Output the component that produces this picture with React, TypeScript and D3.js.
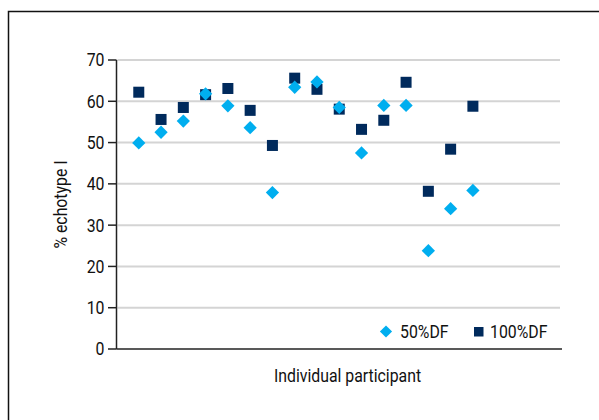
import React from "react";
import * as d3 from "d3";

const participants = [1, 2, 3, 4, 5, 6, 7, 8, 9, 10, 11, 12, 13, 14, 15, 16];
const df50 = [49.9, 52.5, 55.2, 61.8, 58.9, 53.6, 37.9, 63.4, 64.7, 58.5, 47.5, 59.0, 59.0, 23.8, 34.0, 38.4];
const df100 = [62.2, 55.6, 58.5, 61.6, 63.1, 57.8, 49.3, 65.6, 62.9, 58.1, 53.2, 55.4, 64.6, 38.2, 48.4, 58.8];
const yTicks = [0, 10, 20, 30, 40, 50, 60, 70];
const seriesNames = ["50%DF", "100%DF"];
const yTitle = "% echotype I";
const xTitle = "Individual participant";

const W = 599;
const H = 420;
const FONT = "Roboto, 'Liberation Sans', sans-serif";
const FS = 18;
const SX = 0.88;
const C50 = "#00aeef";
const C100 = "#002a5c";

function T(props: { x: number; y: number; anchor?: string; rotate?: number; children: React.ReactNode }) {
  const { x, y, anchor = "start", rotate = 0, children } = props;
  return (
    <g transform={`translate(${x},${y}) rotate(${rotate}) scale(${SX},1)`}>
      <text x={0} y={0} dy="0.36em" textAnchor={anchor} fontSize={FS} fill="#111" fontFamily={FONT}>
        {children}
      </text>
    </g>
  );
}

export default function App() {
  const x = d3.scaleLinear().domain([0, 20]).range([116.5, 562]);
  const y = d3.scaleLinear().domain([0, 70]).range([349, 60]);
  const diamond = d3.symbol().type(d3.symbolDiamond2).size(112)();
  const legendDiamond = d3.symbol().type(d3.symbolDiamond2).size(95)();

  return (
    <svg width={W} height={H} style={{ position: "fixed", left: 0, top: 0, background: "#fff" }}>
      <rect x={0} y={0} width={W} height={H} fill="#fff" />
      <rect x={8.5} y={11.5} width={W + 20} height={H + 20} fill="none" stroke="#111" strokeWidth={1.5} />
      {yTicks.filter((t) => t > 0).map((t) => (
        <line key={"g" + t} x1={x(0) + 1} x2={x(20) - 2} y1={y(t)} y2={y(t)} stroke="#d4d4d4" strokeWidth={2} />
      ))}
      {yTicks.map((t) => (
        <g key={"t" + t}>
          <line x1={108} x2={x(0)} y1={y(t)} y2={y(t)} stroke="#222" strokeWidth={1.5} />
          <T x={104.5} y={y(t)} anchor="end">
            {t}
          </T>
        </g>
      ))}
      <line x1={x(0)} x2={x(0)} y1={y(70)} y2={y(0)} stroke="#222" strokeWidth={1.5} />
      <line x1={x(0)} x2={x(20)} y1={y(0)} y2={y(0)} stroke="#222" strokeWidth={1.5} />
      {participants.map((p, i) => (
        <rect key={"s" + p} x={x(p) - 5.5} y={y(df100[i]) - 5.5} width={11} height={11} fill={C100} />
      ))}
      {participants.map((p, i) => (
        <path key={"d" + p} d={diamond} transform={`translate(${x(p)},${y(df50[i])})`} fill={C50} />
      ))}
      <T x={61} y={(y(0) + y(70)) / 2} anchor="middle" rotate={-90}>
        {yTitle}
      </T>
      <T x={347.5} y={376} anchor="middle">
        {xTitle}
      </T>
      <path d={legendDiamond} transform="translate(386,331.5)" fill={C50} />
      <T x={400} y={331.5}>
        {seriesNames[0]}
      </T>
      <rect x={474} y={327} width={9.5} height={9.5} fill={C100} />
      <T x={490} y={331.5}>
        {seriesNames[1]}
      </T>
    </svg>
  );
}
